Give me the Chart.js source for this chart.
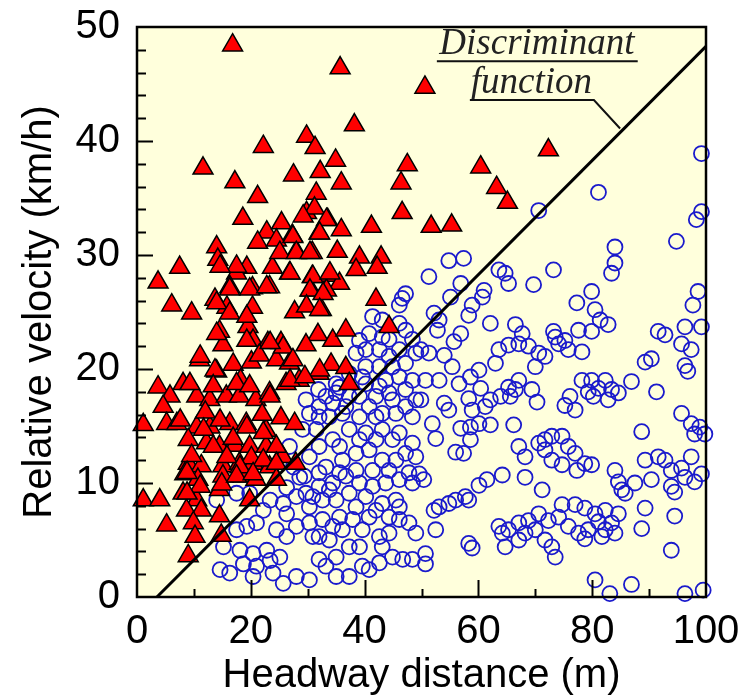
<!DOCTYPE html>
<html>
<head>
<meta charset="utf-8">
<script src="https://cdn.jsdelivr.net/npm/chart.js@4.4.1/dist/chart.umd.min.js"></script>
<style>
  html, body { margin: 0; padding: 0; background: #fff; }
  canvas { display: block; }
</style>
</head>
<body>
<canvas id="chart" width="743" height="700"></canvas>
<script>
// axis ticks
const xTicks = [0, 20, 40, 60, 80, 100];
const yTicks = [0, 10, 20, 30, 40, 50];

// discriminant function (headway m, relative velocity km/h)
const discriminant = [[3.5, 0], [100, 48.3]];

// dangerous cases (red triangles): [headway, relative velocity]
const dangerCases = [
  [16.8,48.4],[35.7,46.4],[50.6,44.7],[38.2,41.4],[29.8,40.4],[31.3,39.4],[22.2,39.5],[11.6,37.6],
  [34.9,38.3],[47.5,37.9],[27.5,37.0],[32.2,37.3],[17.2,36.4],[35.9,36.3],[46.4,36.3],[31.5,35.4],
  [21.2,35.1],[29.8,33.7],[31.2,34.1],[33.5,33.1],[18.6,33.2],[46.6,33.7],[51.7,32.5],[55.3,32.6],
  [41.2,32.5],[22.8,32.0],[25.4,32.8],[27.3,31.7],[32.0,31.9],[35.9,32.2],[21.2,31.1],[14.0,30.7],
  [28.0,30.3],[30.8,30.2],[35.2,30.3],[39.1,29.8],[42.9,29.8],[14.2,29.6],[7.5,28.9],[3.7,27.6],
  [19.3,28.9],[23.8,28.9],[26.8,28.4],[30.8,28.1],[33.8,28.2],[35.6,27.5],[38.5,28.7],[42.2,28.9],
  [17.5,28.4],[16.3,27.2],[20.3,27.1],[23.3,27.2],[30.6,26.9],[33.3,26.9],[42.0,26.1],[6.1,25.6],
  [9.6,24.9],[13.7,26.1],[15.8,25.4],[20.3,25.4],[27.7,25.0],[32.4,25.2],[44.3,23.7],
  [60.4,37.7],[63.2,35.9],[65.1,34.6],[72.3,39.2],
  [14.5,23.3],[15.1,22.1],[19.5,23.7],[20.4,22.5],[31.8,23.0],[34.4,22.5],[36.7,23.4],[23.0,22.3],
  [25.3,22.3],[29.7,22.1],[11.0,20.8],[14.0,19.8],[16.9,20.4],[20.1,20.6],[21.5,21.2],[24.5,20.8],
  [26.8,20.5],[3.7,18.4],[8.1,18.7],[5.8,17.6],[4.6,16.7],[10.5,17.6],[12.8,17.3],[15.7,17.6],
  [18.0,17.6],[20.9,17.3],[23.3,17.9],[26.2,18.7],[28.5,19.0],[32.0,19.6],[34.1,20.4],[36.7,20.1],
  [37.3,18.7],[1.1,15.1],[5.2,15.2],[7.0,15.2],[10.5,14.9],[12.8,14.9],[16.3,15.2],[19.2,15.2],
  [22.7,14.6],[25.3,15.7],[27.7,15.2],[9.0,13.8],[12.2,13.5],[14.5,13.2],[17.2,13.3],[19.8,13.2],
  [22.7,13.2],[25.6,12.3],[27.9,11.7],[9.0,11.7],[11.3,11.5],[15.1,11.5],[18.0,11.7],[20.4,11.7],
  [23.3,11.4],[8.4,10.8],[10.7,10.3],[15.1,10.6],[18.6,10.6],[20.9,10.3],[24.5,10.3],[1.1,8.5],
  [4.0,8.5],[8.1,9.1],[10.5,8.5],[14.5,9.4],[19.8,8.5],[8.7,7.6],[11.3,7.6],[5.2,6.3],
  [9.9,6.5],[14.5,7.1],[10.2,5.3],[14.8,5.4],[9.0,3.6],
  [11.1,21.1],[13.7,19.9],[9.3,18.7],[16.9,13.9],[20.1,12.2],[9.6,12.4],[14.9,9.9],[26.9,19.0],
  [32.1,19.9],[29.5,19.3],[25.7,21.9],[18.2,19.0],[12.0,16.2],[22.0,16.0],
  [14.0,23.1],[19.3,22.5],[23.4,22.3],[27.4,20.8],[13.4,18.5],[17.5,18.7],[19.8,18.5],[23.4,17.6],
  [7.6,15.5],[11.7,14.7],[14.6,15.5],[19.3,14.9],[22.2,14.4],[24.5,13.2],[13.4,13.2],[15.8,12.3],
  [18.1,11.4],[22.2,12.0],[24.5,11.7],[8.8,10.9],[11.1,9.7],[17.5,10.6],[20.4,10.8],[8.8,9.1],
  [29.2,33.4],[33.3,33.1],[24.5,31.3],[27.4,31.6],[32.1,31.9],[25.1,30.2],[28.0,30.2],[30.4,30.2],
  [17.5,29.0],[14.6,29.0],[26.9,28.4],[30.9,28.1],[33.9,28.4],[16.3,27.0],[19.8,27.0],[22.8,27.2],
  [30.4,26.9],[32.7,26.6],[14.0,25.8],[16.3,24.9],[19.3,24.6],[29.8,25.5],[32.1,25.2]
];

// safe cases (blue circles): [headway, relative velocity]
const safeCases = [
  [77.3,25.8],[80.5,25.2],[81.4,24.3],[82.8,23.9],[77.6,23.4],[79.9,23.3],[73.2,23.3],[66.5,23.9],
  [67.7,23.1],[62.1,24.0],[58.3,24.7],[58.9,25.6],[53.1,24.3],[52.8,23.4],[56.9,23.1],[52.2,24.9],
  [97.7,25.6],[99.2,23.7],[96.3,23.7],[92.8,23.0],[91.6,23.3],[95.7,22.2],[97.4,21.7],[90.4,20.9],
  [89.3,20.6],[96.3,20.3],[96.8,19.8],[68.8,22.0],[70.6,21.4],[67.1,22.2],[65.3,22.1],[63.0,20.5],
  [63.6,21.7],[71.7,21.1],[74.1,22.2],[75.8,21.7],[78.2,21.5],[70.0,20.2],[73.5,22.8],[75.2,22.5],
  [55.7,22.4],[54.0,21.2],[51.3,21.4],[49.9,21.7],[55.4,20.2],[53.1,19.0],[50.7,19.0],[49.9,17.3],
  [56.6,18.7],[58.6,19.3],[60.1,19.9],[60.4,18.3],[61.2,16.7],[58.3,17.4],[54.0,17.0],[54.8,16.4],
  [58.9,16.4],[62.1,17.3],[63.9,17.6],[65.3,18.4],[66.5,18.2],[67.1,19.0],[69.4,18.2],[70.3,17.1],
  [65.6,17.6],[78.2,19.0],[76.1,17.6],[75.2,16.8],[77.0,16.4],[79.9,19.0],[81.1,18.3],[82.3,19.0],
  [83.4,18.2],[84.6,17.9],[82.8,17.3],[80.2,17.6],[79.3,18.0],[86.9,18.9],[91.3,18.0],[95.7,16.1],
  [97.4,15.2],[98.9,14.9],[99.8,14.3],[98.0,14.3],[66.2,15.1],[88.7,14.5],[51.9,15.2],[52.5,13.9],
  [56.9,14.8],[58.6,14.9],[60.1,15.2],[62.1,15.1],[58.6,13.8],[56.0,12.7],[57.4,12.6],[67.1,13.2],
  [68.2,12.3],[70.6,13.5],[71.7,13.8],[72.9,14.1],[74.7,14.1],[75.8,13.2],[71.7,12.9],[72.9,12.0],
  [74.7,11.6],[77.0,12.6],[78.7,11.7],[79.9,11.6],[77.3,11.1],[68.2,10.5],[89.3,12.0],[91.6,12.3],
  [92.8,12.0],[93.9,11.1],[95.7,11.3],[97.4,12.3],[99.2,10.8],[98.0,10.1],[96.3,10.5],[94.5,9.2],
  [93.9,9.7],[90.4,10.3],[87.5,10.0],[85.2,9.4],[84.6,10.1],[84.0,11.1],[85.8,9.1],[49.6,10.8],
  [50.4,10.3],[64.2,10.7],[61.5,10.3],[60.1,9.8],[57.7,8.8],[56.0,8.5],[54.8,8.2],[53.1,7.9],
  [52.2,7.6],[58.3,8.5],[71.2,9.4],[74.7,8.1],[77.0,8.1],[78.7,7.8],[80.5,7.3],[82.3,7.6],
  [84.6,7.3],[83.4,6.5],[81.1,6.6],[79.3,5.9],[77.6,5.6],[75.8,6.2],[74.1,7.0],[72.3,6.7],
  [70.6,7.3],[68.8,6.7],[67.1,6.5],[65.3,5.9],[64.2,5.6],[63.6,6.2],[64.7,4.4],[67.1,5.0],
  [68.2,5.6],[70.0,5.9],[71.7,5.0],[72.9,4.4],[73.5,3.5],[81.7,5.3],[78.7,5.1],[84.0,5.6],
  [82.3,5.9],[89.3,7.8],[88.7,6.0],[94.5,7.1],[93.9,4.1],[52.5,5.9],[58.3,4.7],[58.9,4.3],
  [50.7,3.8],[50.7,2.9],[80.5,1.5],[83.1,0.3],[86.9,1.1],[96.3,0.3],[99.5,0.6],
  [99.2,38.9],[81.1,35.5],[70.6,33.9],[99.2,33.8],[98.3,33.1],[94.8,31.2],[84.0,30.7],[84.0,29.3],
  [83.4,28.4],[73.2,28.7],[69.7,27.4],[64.7,28.4],[63.6,28.7],[65.3,27.5],[61.0,26.9],[60.7,26.3],
  [54.8,29.5],[57.4,29.7],[51.3,28.1],[55.1,26.3],[56.9,27.5],[79.9,26.8],[98.6,26.8],
  [47.2,26.6],[46.1,25.6],[46.6,26.2],[41.4,24.6],[40.8,23.1],[43.1,22.8],[46.1,24.0],[47.2,23.4],
  [48.4,22.6],[49.0,21.4],[46.1,21.7],[44.3,21.1],[42.6,20.2],[40.2,20.2],[38.5,21.4],[37.3,19.6],
  [35.6,18.4],[33.2,17.6],[32.0,16.7],[30.3,16.1],[34.4,17.0],[36.1,16.1],[39.1,17.6],[40.2,18.7],
  [42.6,18.5],[43.7,19.0],[46.1,19.3],[48.4,19.0],[31.9,18.2],[37.3,17.6],[40.8,16.7],[44.9,17.3],
  [47.2,16.7],[43.1,16.1],[39.1,15.8],[33.8,15.8],
  [29.7,17.3],[35.0,18.7],[36.7,16.7],[42.0,17.6],[44.3,17.9],[47.2,18.2],[49.0,17.3],[39.6,19.3],
  [35.0,17.9],[32.0,15.8],[42.0,15.8],[45.5,16.1],[48.4,15.8],[42.6,21.7],[40.2,21.7],[44.9,20.2],
  [47.2,20.5],[39.1,22.5],[43.1,24.3],[44.3,22.6],
  [48.4,13.5],[47.2,12.6],[44.9,13.8],[43.1,14.7],[40.2,14.4],[37.3,14.7],[34.4,13.8],[32.0,13.2],
  [30.3,12.3],[33.2,11.4],[36.1,12.0],[38.5,12.6],[40.8,12.9],[43.1,12.0],[45.5,12.0],[47.8,10.9],
  [48.4,10.0],[46.1,10.3],[43.7,10.0],[41.4,9.7],[39.1,10.0],[36.7,10.6],[34.4,10.0],[32.0,9.7],
  [29.7,9.1],[30.3,7.9],[32.6,8.5],[35.0,8.5],[37.3,9.1],[40.2,8.8],[43.1,8.2],[45.5,8.5],
  [46.1,7.9],[40.8,7.0],[37.9,6.8],[35.6,7.0],[32.6,6.8],[30.3,6.5],[30.9,5.3],[33.8,5.0],
  [36.1,5.9],[47.8,6.5],[49.0,5.6],[39.1,4.4],[42.6,5.3],[43.1,4.4],[39.6,2.7],[40.8,2.4],
  [42.6,3.0],[44.9,3.5],[46.7,3.3],[48.4,3.3],[32.0,3.3],[35.0,1.8],[30.3,1.5],
  [29.1,14.7],[31.5,14.7],[35.6,13.2],[39.1,13.8],[42.0,13.8],[46.1,14.4],[49.0,12.3],[44.3,11.1],
  [41.4,11.1],[38.5,11.1],[35.6,10.9],[32.0,10.9],[29.4,10.6],[30.9,8.8],[33.8,9.4],[38.5,7.9],
  [42.0,7.6],[44.3,7.0],[39.6,5.9],[34.4,6.2],[32.0,5.3],[44.3,5.6],[46.1,6.8],[37.3,4.4],
  [35.0,3.5],[33.2,2.7],[37.3,1.8],
  [14.0,8.5],[17.5,9.1],[19.8,9.1],[15.2,4.4],[14.6,2.4],[16.3,2.1],[17.5,5.9],[19.3,6.2],
  [21.0,6.5],[18.1,4.1],[20.4,3.8],[22.8,4.1],[24.5,5.9],[26.3,5.3],[28.0,6.2],[25.1,3.5],
  [23.4,3.2],[21.0,2.7],[18.7,2.9],[20.4,1.8],[23.9,2.1],[25.7,1.2],[28.0,1.8],[23.4,8.5],
  [25.7,8.2],[28.0,8.8],[26.3,7.3],[22.2,7.6],
  [26.8,13.2],[27.5,11.4],[26.3,9.6],[28.6,10.5]
];

const toXY = (arr) => arr.map(([x, y]) => ({ x, y }));

// background, frame, inward ticks and the "Discriminant function" label
const framePlugin = {
  id: "frame",
  beforeDatasetsDraw(chart) {
    const { ctx, chartArea: a } = chart;
    ctx.save();
    ctx.fillStyle = "#ffffdc";
    ctx.fillRect(a.left, a.top, a.width, a.height);
    ctx.restore();
  },
  afterDraw(chart) {
    const { ctx, chartArea: a, scales } = chart;
    const sx = scales.x, sy = scales.y;
    ctx.save();
    ctx.strokeStyle = "#000";
    ctx.lineWidth = 2;
    // y ticks every 2, long every 10
    for (let v = 2; v < 50; v += 2) {
      const py = Math.round(sy.getPixelForValue(v)) + 0.5;
      const len = v % 10 === 0 ? 16 : 9;
      ctx.beginPath();
      ctx.moveTo(a.left, py);
      ctx.lineTo(a.left + len, py);
      ctx.stroke();
    }
    // x ticks every 10, long every 20
    for (let v = 10; v < 100; v += 10) {
      const px = Math.round(sx.getPixelForValue(v)) + 0.5;
      const len = v % 20 === 0 ? 17 : 8;
      ctx.beginPath();
      ctx.moveTo(px, a.bottom);
      ctx.lineTo(px, a.bottom - len);
      ctx.stroke();
    }
    ctx.lineWidth = 2.5;
    ctx.strokeRect(a.left, a.top, a.width, a.height);

    // label
    ctx.fillStyle = "#222";
    ctx.font = "italic 37px 'Liberation Serif', 'DejaVu Serif', serif";
    ctx.textAlign = "center";
    ctx.textBaseline = "alphabetic";
    ctx.fillText("Discriminant", sx.getPixelForValue(70.3), sy.getPixelForValue(47.6));
    ctx.fillText("function", sx.getPixelForValue(69.3), sy.getPixelForValue(44.2));
    ctx.lineWidth = 2;
    ctx.strokeStyle = "#111";
    ctx.beginPath();
    ctx.moveTo(sx.getPixelForValue(52.7), sy.getPixelForValue(47.0));
    ctx.lineTo(sx.getPixelForValue(88.0), sy.getPixelForValue(47.0));
    ctx.moveTo(sx.getPixelForValue(58.5), sy.getPixelForValue(43.6));
    ctx.lineTo(sx.getPixelForValue(80.3), sy.getPixelForValue(43.6));
    ctx.lineTo(sx.getPixelForValue(84.9), sy.getPixelForValue(41.1));
    ctx.stroke();
    ctx.restore();
  },
};

const font = { family: "'Liberation Sans', Arial, sans-serif", size: 40 };

new Chart(document.getElementById("chart"), {
  type: "scatter",
  data: {
    datasets: [
      {
        type: "line",
        data: toXY(discriminant),
        borderColor: "#000",
        borderWidth: 3,
        pointRadius: 0,
        order: 0,
      },
      {
        data: toXY(dangerCases),
        pointStyle: "triangle",
        pointRadius: 11.5,
        backgroundColor: "#ff0000",
        borderColor: "#000",
        borderWidth: 1.5,
        clip: false,
        order: 1,
      },
      {
        data: toXY(safeCases),
        pointStyle: "circle",
        pointRadius: 7.5,
        backgroundColor: "rgba(0,0,0,0)",
        borderColor: "#1a1acc",
        borderWidth: 1.8,
        clip: false,
        order: 2,
      },
    ],
  },
  options: {
    responsive: false,
    animation: false,
    layout: { padding: { left: 0, right: 37, top: 27, bottom: 0 } },
    plugins: { legend: { display: false }, tooltip: { enabled: false } },
    scales: {
      x: {
        type: "linear",
        min: 0,
        max: 100,
        afterBuildTicks: (s) => { s.ticks = xTicks.map((v) => ({ value: v })); },
        afterFit: (s) => { s.height = 103; s.paddingLeft = 0; s.paddingRight = 0; },
        grid: { display: false, drawTicks: false },
        border: { display: false },
        ticks: { font, color: "#000", padding: 11, maxRotation: 0 },
        title: {
          display: true,
          text: "Headway distance (m)",
          font,
          color: "#000",
          padding: { top: 0, bottom: 0 },
        },
      },
      y: {
        type: "linear",
        min: 0,
        max: 50,
        afterBuildTicks: (s) => { s.ticks = yTicks.map((v) => ({ value: v })); },
        afterFit: (s) => { s.width = 137; s.paddingTop = 0; s.paddingBottom = 0; },
        grid: { display: false, drawTicks: false },
        border: { display: false },
        ticks: { font, color: "#000", padding: 17 },
        title: {
          display: true,
          text: "Relative velocity (km/h)",
          font,
          color: "#000",
          padding: { top: 16, bottom: 0 },
        },
      },
    },
  },
  plugins: [framePlugin],
});
</script>
</body>
</html>
